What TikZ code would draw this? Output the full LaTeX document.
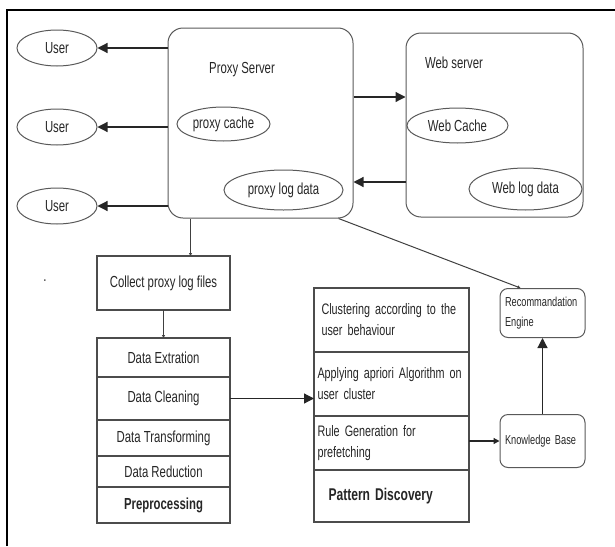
\documentclass[tikz,border=0pt]{standalone}
\usepackage{fontspec}
\newfontfamily\diagfont[FakeStretch=0.71]{Liberation Sans}
\usepackage{tikz}
\usetikzlibrary{shapes.geometric,arrows.meta,positioning}

\begin{document}
\begin{tikzpicture}[x=1pt,y=-1pt,text=black!85,font=\diagfont\fontsize{16}{21}\selectfont,
  user/.style={ellipse,draw=black!65,line width=1pt,minimum width=80pt,minimum height=36pt,inner sep=0pt},
  server/.style={rectangle,rounded corners=15pt,draw=black!65,line width=1pt},
  store/.style={ellipse,draw=black!65,line width=1pt,inner sep=0pt},
  row/.style={rectangle,draw=black!70,line width=1.2pt,outer sep=0pt,align=center,minimum width=133pt},
  prow/.style={rectangle,draw=black!70,line width=1.2pt,outer sep=0pt,text width=152pt,inner xsep=1.5pt,align=left,font=\diagfont\fontsize{15.2}{21}\selectfont},
  engine/.style={rectangle,rounded corners=8pt,draw=black!65,line width=1pt,text width=75pt,inner xsep=5pt,align=left,font=\diagfont\fontsize{13}{20}\selectfont},
  big/.style={-{Triangle[length=10pt,width=10pt]},line width=1.2pt,draw=black!85},
  mid/.style={-{Triangle[length=6pt,width=6pt]},line width=1.2pt,draw=black!85},
  small/.style={-{Triangle[length=3pt,width=3pt]},line width=1pt,draw=black!75}]
\useasboundingbox (0,0) rectangle (615,546);
\draw[line width=2pt] (7,546) -- (7,10) -- (615,10);

\node[user] (u1) at (57,48) {User};
\node[user] (u2) at (57,127) {User};
\node[user] (u3) at (57,206) {User};

\node[server,minimum width=185pt,minimum height=190pt] (proxy) at (260.5,123) {};
\node (proxytitle) at (242,70) {Proxy Server};
\node[store,minimum width=93pt,minimum height=34pt] (pcache) at (223.5,124) {proxy cache};
\node[store,minimum width=119pt,minimum height=40pt] (plog) at (283.5,190) {proxy log data};

\node[server,minimum width=177pt,minimum height=184pt] (web) at (494.5,125) {};
\node (webtitle) at (454,63) {Web server};
\node[store,minimum width=101pt,minimum height=35pt] (wcache) at (457.5,125.5) {Web Cache};
\node[store,minimum width=113pt,minimum height=42pt] (wlog) at (525.5,189) {Web log data};

\draw[big] (u1 -| proxy.west) -- (u1);
\draw[big] (u2 -| proxy.west) -- (u2);
\draw[big] (u3 -| proxy.west) -- (u3);
\draw[big] ([yshift=28pt]web.west -| proxy.east) -- ([yshift=28pt]web.west);
\draw[big] ([yshift=-57pt]web.west) -- ([yshift=-57pt]web.west -| proxy.east);

\node (dot) at (45,281) {.};
\node[row,minimum height=54pt] (collect) at (163.5,283) {Collect proxy log files};
\node[row,minimum height=39pt,anchor=north] (pre1) at (163.5,338) {Data Extration};
\node[row,minimum height=43pt,below=0pt of pre1] (pre2) {Data Cleaning};
\node[row,minimum height=36pt,below=0pt of pre2] (pre3) {Data Transforming};
\node[row,minimum height=31pt,below=0pt of pre3] (pre4) {Data Reduction};
\node[row,minimum height=36pt,below=0pt of pre4] (pre5) {\bfseries Preprocessing};

\node[prow,minimum height=64pt,anchor=north] (pat1) at (391.5,288) {\hspace*{6pt}Clustering according to the\\\hspace*{6pt}user behaviour};
\node[prow,minimum height=64pt,below=0pt of pat1] (pat2) {\hspace*{2pt}Applying apriori Algorithm on\\\hspace*{2pt}user cluster};
\node[prow,minimum height=54pt,below=0pt of pat2] (pat3) {\hspace*{2pt}Rule Generation for\\\hspace*{2pt}prefetching};
\node[prow,minimum height=52pt,below=0pt of pat3] (pat4) {\hspace*{13pt}\bfseries\fontsize{17}{21}\selectfont Pattern Discovery};

\node[engine,minimum height=49pt,anchor=north] (rec) at (542.5,288) {Recommandation\\Engine};
\node[engine,minimum height=53pt,below=76pt of rec] (kb) {Knowledge Base};

\draw[small] ([xshift=27pt]collect.north |- proxy.south) -- ([xshift=27pt]collect.north);
\draw[small] (collect) -- (pre1);
\draw[big] (pre2.east) -- (pre2.east -| pat2.west);
\draw[mid] (kb.west -| pat3.east) -- (kb.west);
\draw[big] (kb) -- (rec);
\draw[small] ([xshift=-15pt]proxy.south east) -- ([xshift=-22pt]rec.north);
\end{tikzpicture}
\end{document}
